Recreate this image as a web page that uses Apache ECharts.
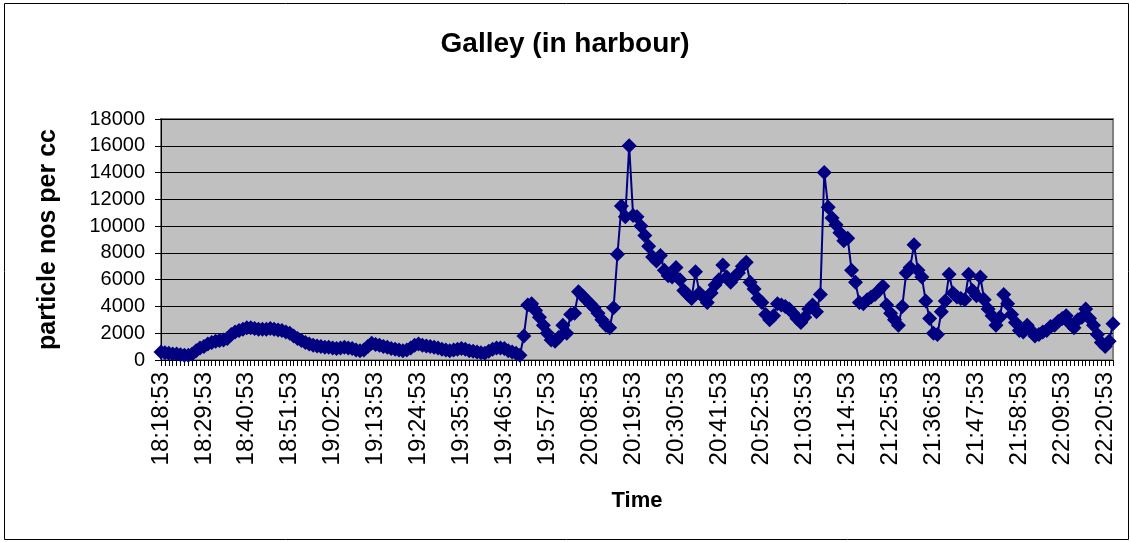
<!DOCTYPE html>
<html>
<head>
<meta charset="utf-8">
<script src="https://cdn.jsdelivr.net/npm/echarts@6/dist/echarts.min.js"></script>
<style>
html,body{margin:0;padding:0;background:#fff;}
#chart{width:1130px;height:542px;}
</style>
</head>
<body>
<div id="chart"></div>
<script>
// Data
const startTime = [18, 18, 53];
const pointCount = 245;
const particleCounts = [
600,550,500,450,450,400,350,350,450,700,
900,1000,1200,1300,1400,1450,1500,1600,1900,2100,
2200,2300,2400,2400,2350,2300,2300,2300,2350,2300,
2250,2200,2100,2000,1800,1600,1450,1300,1200,1100,
1050,1000,950,950,900,850,900,950,900,850,
750,700,750,1000,1250,1150,1100,1000,950,850,
800,750,700,750,900,1100,1200,1100,1050,1000,
950,900,800,750,700,750,800,850,800,700,
650,600,550,500,650,800,900,900,850,700,
600,500,350,1800,4100,4200,3700,3200,2600,2000,
1500,1400,1700,2600,2000,3400,3500,5100,4800,4500,
4200,3900,3500,3000,2600,2400,3900,7900,11500,10700,
16000,10800,10700,10000,9300,8500,7700,7400,7800,6700,
6300,6200,6900,6000,5200,4900,4600,6600,5000,4700,
4300,5000,5600,6000,7100,6200,5800,6200,6500,7000,
7300,5800,5300,4600,4300,3400,3000,3300,4200,4100,
4000,3800,3500,3100,2800,3200,3800,4100,3600,4900,
14000,11400,10600,10100,9500,8900,9100,6700,5800,4300,
4200,4500,4700,4900,5200,5500,4100,3500,3000,2600,
4000,6500,6900,8600,6700,6200,4400,3100,2000,1900,
3600,4400,6400,5000,4700,4600,4500,6400,5200,4800,
6200,4500,3800,3300,2600,3200,4900,4200,3400,2800,
2200,2100,2600,2200,1800,1900,2100,2200,2500,2600,
2900,3100,3300,2700,2400,3000,3200,3800,3100,2600,
1900,1300,1000,1400,2700
];
const yTicks = [0,2000,4000,6000,8000,10000,12000,14000,16000,18000];

function pad(n){return (n<10?'0':'')+n;}
const timeLabels = [];
for (let i = 0; i < pointCount; i++) {
  const total = startTime[0]*3600 + startTime[1]*60 + startTime[2] + i*60;
  const h = Math.floor(total/3600), m = Math.floor((total%3600)/60), s = total%60;
  timeLabels.push(pad(h)+':'+pad(m)+':'+pad(s));
}

const FONT = '"Liberation Sans", Arial, sans-serif';
const chart = echarts.init(document.getElementById('chart'), null, {renderer:'canvas'});
chart.setOption({
  animation: false,
  backgroundColor: '#ffffff',
  title: {
    text: 'Galley (in harbour)',
    left: 'center',
    top: 25,
    textStyle: {fontFamily: FONT, fontSize: 28, fontWeight: 'bold', color: '#000'}
  },
  graphic: [{
    type: 'rect',
    shape: {x: 4.5, y: 3.5, width: 1124, height: 536},
    style: {fill: 'none', stroke: '#000', lineWidth: 1},
    silent: true,
    z: -1
  }],
  grid: {
    left: 161, top: 119, right: 17, bottom: 182,
    show: true,
    backgroundColor: '#c0c0c0',
    borderColor: '#808080',
    borderWidth: 2
  },
  xAxis: {
    type: 'category',
    data: timeLabels,
    boundaryGap: false,
    name: 'Time',
    nameLocation: 'middle',
    nameGap: 130,
    nameTextStyle: {fontFamily: FONT, fontSize: 22, fontWeight: 'bold', color: '#000'},
    axisLine: {show: true, lineStyle: {color: '#000', width: 1}},
    axisTick: {show: true, interval: 0, length: 6, inside: false, lineStyle: {color: '#000', width: 1}},
    axisLabel: {
      interval: 10,
      rotate: 90,
      margin: 12,
      fontFamily: FONT,
      fontSize: 24,
      color: '#000'
    },
    splitLine: {show: false}
  },
  yAxis: {
    type: 'value',
    min: 0,
    max: 18000,
    interval: 2000,
    name: 'particle nos per cc',
    nameLocation: 'middle',
    nameGap: 100,
    nameTextStyle: {fontFamily: FONT, fontSize: 25, fontWeight: 'bold', color: '#000'},
    axisLine: {show: true, lineStyle: {color: '#000', width: 1}},
    axisTick: {show: true, length: 6, lineStyle: {color: '#000', width: 1}},
    axisLabel: {
      margin: 16,
      fontFamily: FONT,
      fontSize: 20,
      color: '#000',
      formatter: function(v){ return yTicks.indexOf(v) >= 0 ? String(v) : ''; }
    },
    splitLine: {show: true, lineStyle: {color: '#000', width: 1}}
  },
  series: [{
    type: 'line',
    data: particleCounts,
    symbol: 'diamond',
    symbolSize: 15,
    showAllSymbol: true,
    lineStyle: {color: '#000080', width: 2},
    itemStyle: {color: '#000080', borderColor: '#000080', borderWidth: 0},
    clip: false
  }]
});
</script>
</body>
</html>
